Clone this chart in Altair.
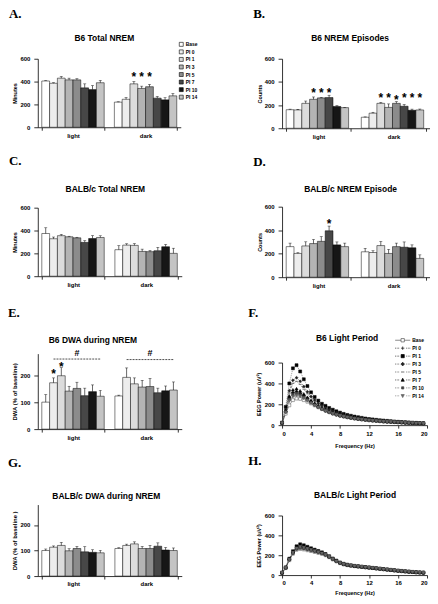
import altair as alt
import pandas as pd

SANS = "Liberation Sans"
SERIF = "Liberation Serif"

groups = ["Base", "PI 0", "PI 1", "PI 3", "PI 5", "PI 7", "PI 10", "PI 14"]
periods = ["light", "dark"]
bar_fills = ["#ffffff", "#ededed", "#dcdcdc", "#b4b4b4", "#8c8c8c", "#474747", "#161616", "#c4c4c4"]

# A. B6 Total NREM (minutes)
a_light = [405, 385, 430, 415, 415, 345, 330, 390]
a_light_err = [3, 5, 15, 15, 10, 35, 35, 20]
a_dark = [220, 245, 380, 340, 355, 255, 240, 275]
a_dark_err = [3, 15, 20, 20, 20, 15, 20, 20]
a_star_period = ["dark", "dark", "dark"]
a_star_group = ["PI 1", "PI 3", "PI 5"]
a_star_y = [470, 470, 470]

# B. B6 NREM Episodes (counts)
b_light = [160, 158, 215, 250, 262, 265, 188, 178]
b_light_err = [5, 5, 20, 20, 5, 20, 7, 3]
b_dark = [95, 130, 215, 180, 215, 190, 155, 158]
b_dark_err = [3, 8, 8, 30, 15, 15, 10, 8]
b_star_period = ["light", "light", "light", "dark", "dark", "dark", "dark", "dark", "dark"]
b_star_group = ["PI 3", "PI 5", "PI 7", "PI 1", "PI 3", "PI 5", "PI 7", "PI 10", "PI 14"]
b_star_y = [332, 332, 332, 289, 289, 270, 289, 289, 289]

# C. BALB/c Total NREM (minutes)
c_light = [374, 328, 355, 345, 336, 296, 330, 339]
c_light_err = [50, 15, 12, 5, 5, 15, 25, 15]
c_dark = [232, 272, 270, 217, 215, 223, 258, 200]
c_dark_err = [35, 12, 15, 20, 10, 30, 20, 45]

# D. BALB/c NREM Episode (counts)
d_light = [260, 202, 266, 286, 305, 395, 275, 260]
d_light_err = [30, 8, 35, 35, 40, 40, 25, 30]
d_dark = [216, 210, 269, 202, 260, 255, 250, 160]
d_dark_err = [30, 15, 35, 35, 30, 45, 25, 30]
d_star_period = ["light"]
d_star_group = ["PI 7"]
d_star_y = [482]

# E. B6 DWA during NREM (% of baseline)
e_light = [100, 172, 198, 141, 151, 124, 139, 122]
e_light_err = [28, 18, 30, 18, 23, 28, 25, 22]
e_dark = [123, 192, 168, 156, 158, 135, 142, 145]
e_dark_err = [3, 35, 22, 25, 30, 17, 18, 30]
e_star_period = ["light", "light"]
e_star_group = ["PI 0", "PI 1"]
e_star_y = [214, 240]
e_line_period = ["light", "light", "dark", "dark"]
e_line_group = ["PI 0", "PI 14", "PI 0", "PI 14"]
e_line_y = [260, 260, 258, 258]
e_hash_period = ["light", "dark"]
e_hash_group = ["PI 5", "PI 5"]
e_hash_y = [283, 283]

# G. BALB/c DWA during NREM (% of baseline)
g_light = [100, 113, 120, 99, 108, 95, 93, 91]
g_light_err = [6, 5, 12, 8, 8, 20, 10, 10]
g_dark = [108, 120, 126, 108, 108, 117, 102, 100]
g_dark_err = [3, 5, 8, 8, 12, 13, 10, 10]

# F / H. EEG power spectra
freqs = [0, 0.5, 1, 1.5, 2, 2.5, 3, 3.5, 4, 4.5, 5, 5.5, 6, 6.5, 7, 7.5, 8, 8.5, 9, 9.5,
         10, 10.5, 11, 11.5, 12, 12.5, 13, 13.5, 14, 14.5, 15, 15.5, 16, 16.5, 17, 17.5, 18, 18.5, 19, 19.5]

f_base = [20, 110, 190, 240, 255, 252, 240, 225, 208, 190, 172, 155, 140, 126, 113, 102, 92, 84, 77, 71,
          65, 60, 56, 52, 48, 45, 42, 39, 36, 34, 32, 30, 28, 26, 24, 22, 20, 19, 17, 16]
f_pi0 = [20, 130, 260, 310, 320, 305, 280, 252, 225, 200, 177, 157, 140, 125, 112, 101, 91, 83, 76, 70,
         64, 59, 55, 51, 47, 44, 41, 38, 35, 33, 31, 29, 27, 25, 23, 22, 20, 19, 17, 16]
f_pi1 = [25, 175, 400, 545, 575, 515, 440, 375, 315, 270, 235, 205, 185, 165, 148, 133, 120, 108, 98, 90,
         82, 76, 70, 64, 59, 55, 51, 47, 44, 41, 38, 35, 32, 30, 28, 26, 24, 22, 20, 19]
f_pi3 = [22, 150, 330, 430, 455, 420, 370, 320, 275, 240, 210, 185, 165, 148, 133, 120, 108, 98, 89, 81,
         74, 68, 63, 58, 54, 50, 46, 43, 40, 37, 35, 33, 31, 29, 27, 25, 23, 21, 19, 18]
f_pi5 = [22, 145, 310, 400, 420, 390, 345, 300, 262, 228, 200, 176, 156, 139, 124, 111, 100, 91, 83, 76,
         69, 64, 59, 55, 51, 47, 44, 41, 38, 35, 33, 31, 29, 27, 25, 23, 21, 20, 18, 17]
f_pi7 = [22, 140, 280, 340, 350, 330, 300, 268, 238, 210, 185, 164, 146, 130, 117, 105, 95, 86, 79, 72,
         66, 61, 57, 53, 49, 45, 42, 39, 36, 34, 32, 30, 28, 26, 24, 22, 20, 19, 18, 16]
f_pi10 = [20, 125, 245, 290, 300, 288, 265, 240, 215, 192, 171, 152, 136, 122, 110, 99, 90, 82, 75, 69,
          63, 58, 54, 50, 46, 43, 40, 37, 35, 33, 31, 29, 27, 25, 23, 21, 20, 18, 17, 16]
f_pi14 = [20, 120, 230, 272, 282, 272, 255, 232, 210, 188, 168, 150, 134, 120, 108, 98, 89, 81, 74, 68,
          62, 57, 53, 49, 46, 43, 40, 37, 35, 33, 31, 29, 27, 25, 23, 21, 20, 18, 17, 16]

h_base = [22, 70, 150, 215, 255, 262, 258, 250, 242, 233, 224, 214, 200, 180, 158, 138, 120, 108, 100, 95,
          90, 86, 82, 78, 75, 71, 67, 63, 59, 55, 51, 47, 43, 40, 37, 34, 31, 28, 26, 24]
h_pi0 = [24, 75, 160, 230, 275, 290, 282, 270, 258, 246, 235, 222, 206, 185, 163, 142, 124, 111, 102, 96,
         91, 87, 83, 79, 75, 71, 67, 63, 59, 55, 51, 47, 43, 40, 37, 34, 31, 28, 26, 24]
h_pi1 = [25, 78, 165, 240, 290, 310, 300, 285, 270, 256, 243, 229, 212, 190, 167, 146, 127, 114, 105, 98,
         93, 89, 85, 81, 77, 73, 69, 65, 61, 57, 53, 49, 45, 42, 38, 35, 32, 29, 27, 25]
h_pi3 = [23, 72, 155, 222, 265, 278, 272, 262, 252, 241, 231, 219, 204, 183, 161, 140, 122, 110, 101, 96,
         91, 87, 83, 79, 75, 71, 67, 63, 59, 55, 51, 47, 43, 40, 37, 34, 31, 28, 26, 24]
h_pi5 = [24, 74, 158, 228, 272, 286, 280, 268, 256, 244, 233, 220, 205, 184, 162, 141, 123, 111, 102, 96,
         91, 87, 83, 79, 75, 71, 67, 63, 59, 55, 51, 47, 43, 40, 37, 34, 31, 28, 26, 24]
h_pi7 = [25, 76, 162, 236, 284, 302, 294, 280, 266, 252, 240, 226, 210, 188, 165, 144, 125, 112, 103, 97,
         92, 88, 84, 80, 76, 72, 68, 64, 60, 56, 52, 48, 44, 41, 38, 35, 32, 29, 27, 25]
h_pi10 = [23, 71, 152, 218, 260, 270, 265, 256, 247, 237, 227, 216, 201, 181, 159, 139, 121, 109, 100, 95,
          90, 86, 82, 78, 74, 70, 66, 62, 58, 54, 50, 46, 42, 39, 36, 33, 30, 27, 25, 23]
h_pi14 = [24, 73, 157, 226, 270, 284, 277, 266, 255, 243, 232, 219, 204, 183, 161, 140, 122, 110, 101, 96,
          91, 87, 83, 79, 75, 71, 67, 63, 59, 55, 51, 47, 43, 40, 37, 34, 31, 28, 26, 24]

pt_shapes = ["square", "cross", "square", "diamond", "stroke", "triangle-up", "circle", "triangle-down"]
pt_fills = ["#ffffff", "#000000", "#000000", "#222222", "#333333", "#000000", "#444444", "#666666"]
pt_strokes = ["#555555", "#000000", "#000000", "#222222", "#333333", "#000000", "#444444", "#666666"]
dashes = [[1, 0], [1, 1], [1, 1], [2, 1], [3, 1], [1, 1], [1, 2], [2, 1]]

DOTS = "M-1.9,0h0.2M-1.5,0h0.2M-1.1,0h0.2M0.9,0h0.2M1.3,0h0.2M1.7,0h0.2"
leg_paths = [
    "M-1.9,0H-0.42M0.42,0H1.9M-0.42,-0.42H0.42V0.42H-0.42Z",
    DOTS + "M-0.42,0H0.42M0,-0.42V0.42",
    DOTS + "M-0.4,-0.4H0.4V0.4H-0.4Z",
    DOTS + "M0,-0.46L0.46,0L0,0.46L-0.46,0Z",
    DOTS + "M-0.42,0H0.42",
    DOTS + "M0,-0.44L0.4,0.32H-0.4Z",
    DOTS + "M-0.28,-0.28H0.28V0.28H-0.28Z",
    DOTS + "M0,0.44L0.4,-0.32H-0.4Z",
]

AX = dict(labelFont=SANS, labelFontSize=6, labelFontWeight="bold", labelColor="black",
          titleFont=SANS, titleFontWeight="bold", titleColor="black",
          domainColor="black", tickColor="black", domainWidth=0.8, tickWidth=0.8, grid=False)

INDEP = dict(fill="independent", shape="independent", stroke="independent", strokeDash="independent")


def text_layer(txt, x, y, size, font=SANS, align="center"):
    return alt.Chart(pd.DataFrame({"t": [txt]})).mark_text(
        font=font, fontSize=size, fontWeight="bold", align=align, baseline="middle", color="black"
    ).encode(text="t:N", x=alt.value(x), y=alt.value(y))


def bar_frame(light, light_err, dark, dark_err):
    rows = []
    for p, vals, errs in (("light", light, light_err), ("dark", dark, dark_err)):
        for g, v, e in zip(groups, vals, errs):
            rows.append({"period": p, "group": g, "value": v, "top": v + e})
    return pd.DataFrame(rows)


def bar_panel(df, ytitle, ydomain, yticks, w, h, letter, lpos, title, tpos,
              ytitle_size=5.5, stars=None, legend=False, extra=()):
    X = alt.X("period:N", sort=periods,
              scale=alt.Scale(domain=periods, paddingInner=0.14, paddingOuter=0.055),
              axis=alt.Axis(title=None, labelAngle=0, tickBand="extent", tickSize=3, labelPadding=2, **AX))
    XO = alt.XOffset("group:N", sort=groups, scale=alt.Scale(domain=groups, paddingInner=0, paddingOuter=0))

    def Y(field):
        return alt.Y(field, scale=alt.Scale(domain=ydomain, nice=False),
                     axis=alt.Axis(title=ytitle, values=yticks, format="d", tickSize=4, labelPadding=4,
                                   titleFontSize=ytitle_size, titlePadding=2, **AX))

    fill_legend = None
    if legend:
        fill_legend = alt.Legend(title=None, orient="none", legendX=142, legendY=-17, symbolType="square",
                                 symbolSize=16, symbolStrokeColor="black", symbolStrokeWidth=0.6,
                                 labelFont=SANS, labelFontSize=5, labelFontWeight="bold", labelColor="black",
                                 rowPadding=0.6, labelOffset=2, padding=0)
    base = alt.Chart(df)
    bars = base.mark_bar(stroke="black", strokeWidth=0.5).encode(
        x=X, xOffset=XO, y=Y("value:Q"),
        fill=alt.Fill("group:N", sort=groups, scale=alt.Scale(domain=groups, range=bar_fills), legend=fill_legend))
    err = base.mark_rule(color="black", strokeWidth=0.6).encode(x=X, xOffset=XO, y=Y("value:Q"), y2="top:Q")
    cap = base.mark_tick(color="black", thickness=0.6, size=3).encode(x=X, xOffset=XO, y=Y("top:Q"))
    layers = [bars, err, cap]
    if stars is not None:
        sp, sg, sy = stars
        sdf = pd.DataFrame({"period": sp, "group": sg, "y": sy})
        layers.append(alt.Chart(sdf).mark_text(text="*", font=SANS, fontSize=12, fontWeight="bold",
                                               baseline="alphabetic", dy=7, color="black").encode(
            x=X, xOffset=XO, y=Y("y:Q")))
    for kind, (pp, gg, yy) in extra:
        edf = pd.DataFrame({"period": pp, "group": gg, "y": yy})
        if kind == "line":
            layers.append(alt.Chart(edf).mark_line(strokeDash=[2, 1], color="black", strokeWidth=0.7).encode(
                x=X, xOffset=XO, y=Y("y:Q"), detail="period:N"))
        else:
            layers.append(alt.Chart(edf).mark_text(text="#", font=SANS, fontSize=9, fontWeight="bold",
                                                   baseline="alphabetic", dy=3, color="black").encode(
                x=X, xOffset=XO, y=Y("y:Q")))
    layers.append(text_layer(letter, lpos[0], lpos[1], 13, font=SERIF, align="left"))
    layers.append(text_layer(title, tpos[0], tpos[1], 8.5))
    return alt.layer(*layers).properties(width=w, height=h)


def spec_panel(series_vals, w, h, letter, lpos, title, tpos, xtitle_pad, legend=False):
    rows = []
    for s, vals in zip(groups, series_vals):
        for f, v in zip(freqs, vals):
            rows.append({"f": f, "v": v, "series": s})
    df = pd.DataFrame(rows)
    X = alt.X("f:Q", scale=alt.Scale(domain=[0, 20], nice=False),
              axis=alt.Axis(title="Frequency (Hz)", values=[0, 4, 8, 12, 16, 20], tickSize=3, labelPadding=2,
                            titleFontSize=5.5, titlePadding=xtitle_pad, **AX))
    Y = alt.Y("v:Q", scale=alt.Scale(domain=[0, 600], nice=False),
              axis=alt.Axis(title="EEG Power (uV\u00b2)", values=[0, 200, 400, 600], format="d", tickSize=4,
                            labelPadding=4, titleFontSize=5.5, titlePadding=3, **AX))
    lines = alt.Chart(df).mark_line(strokeWidth=0.6, color="#555555").encode(
        x=X, y=Y, detail="series:N",
        strokeDash=alt.StrokeDash("series:N", sort=groups, scale=alt.Scale(domain=groups, range=dashes), legend=None))
    pts = alt.Chart(df).mark_point(filled=True, size=9, strokeWidth=0.5, opacity=1).encode(
        x=X, y=Y,
        shape=alt.Shape("series:N", sort=groups, scale=alt.Scale(domain=groups, range=pt_shapes), legend=None),
        fill=alt.Fill("series:N", sort=groups, scale=alt.Scale(domain=groups, range=pt_fills), legend=None),
        stroke=alt.Stroke("series:N", sort=groups, scale=alt.Scale(domain=groups, range=pt_strokes), legend=None))
    layers = [lines, pts]
    if legend:
        lg = alt.Legend(title=None, orient="none", legendX=117, legendY=-27, symbolSize=64,
                        symbolStrokeWidth=0.7, labelFont=SANS, labelFontSize=5, labelFontWeight="bold",
                        labelColor="black", rowPadding=0, labelOffset=5, padding=0)
        leg = alt.Chart(df).transform_filter("datum.f > 100").mark_point(filled=True, opacity=1, strokeWidth=0.7).encode(
            x=X, y=Y,
            shape=alt.Shape("series:N", sort=groups, scale=alt.Scale(domain=groups, range=leg_paths), legend=lg),
            fill=alt.Fill("series:N", sort=groups, scale=alt.Scale(domain=groups, range=pt_fills), legend=lg),
            stroke=alt.Stroke("series:N", sort=groups, scale=alt.Scale(domain=groups, range=pt_strokes), legend=lg))
        layers.append(leg)
    layers.append(text_layer(letter, lpos[0], lpos[1], 13, font=SERIF, align="left"))
    layers.append(text_layer(title, tpos[0], tpos[1], 8.5))
    ch = alt.layer(*layers).properties(width=w, height=h)
    if legend:
        ch = ch.resolve_scale(shape="independent", fill="independent", stroke="independent")
    return ch


A = bar_panel(bar_frame(a_light, a_light_err, a_dark, a_dark_err), "Minutes", [0, 600], [0, 200, 400, 600],
              144, 69, "A.", (-29, -45), "B6 Total NREM", (67, -21),
              stars=(a_star_period, a_star_group, a_star_y), legend=True)
B = bar_panel(bar_frame(b_light, b_light_err, b_dark, b_dark_err), "Counts", [0, 600], [0, 200, 400, 600],
              149, 70, "B.", (-29, -45), "B6 NREM Episodes", (68.5, -20.5),
              stars=(b_star_period, b_star_group, b_star_y))
C = bar_panel(bar_frame(c_light, c_light_err, c_dark, c_dark_err), "Minutes", [0, 600], [0, 200, 400, 600],
              145, 69, "C.", (-29, -46.5), "BALB/c Total NREM", (68, -18.7))
D = bar_panel(bar_frame(d_light, d_light_err, d_dark, d_dark_err), "Counts", [0, 600], [0, 200, 400, 600],
              149, 71, "D.", (-29, -44.5), "BALB/c NREM Episode", (69, -17.7),
              stars=(d_star_period, d_star_group, d_star_y))
E = bar_panel(bar_frame(e_light, e_light_err, e_dark, e_dark_err), "DWA (% of baseline)", [0, 280], [0, 100, 200],
              145, 76, "E.", (-30, -40.5), "B6 DWA during NREM", (55.5, -14), ytitle_size=6,
              stars=(e_star_period, e_star_group, e_star_y),
              extra=[("line", (e_line_period, e_line_group, e_line_y)),
                     ("hash", (e_hash_period, e_hash_group, e_hash_y))])
G = bar_panel(bar_frame(g_light, g_light_err, g_dark, g_dark_err), "DWA (% of baseline )", [0, 280], [0, 100, 200],
              145, 72, "G.", (-30, -41.5), "BALB/c DWA during NREM", (69, -8.3), ytitle_size=6)
F = spec_panel([f_base, f_pi0, f_pi1, f_pi3, f_pi5, f_pi7, f_pi10, f_pi14], 146, 63,
               "F.", (-34, -50), "B6 Light Period", (65.5, -24.3), 8, legend=True)
H = spec_panel([h_base, h_pi0, h_pi1, h_pi3, h_pi5, h_pi7, h_pi10, h_pi14], 146, 60,
               "H.", (-34, -54.5), "BALB/c Light Period", (73.5, -20.3), 5)

left = alt.concat(alt.vconcat(A, C, spacing=81, bounds="flush").resolve_scale(**INDEP),
                  alt.vconcat(E, G, spacing=76, bounds="flush").resolve_scale(**INDEP),
                  columns=1, spacing=20, align="none").resolve_scale(**INDEP)
right = alt.concat(alt.vconcat(B, D, spacing=79, bounds="flush").resolve_scale(**INDEP),
                   alt.vconcat(F, H, spacing=91, bounds="flush").resolve_scale(**INDEP),
                   columns=1, spacing=19, align="none").resolve_scale(**INDEP)

chart = alt.hconcat(left, right, spacing=51).resolve_scale(**INDEP).properties(
    padding={"top": -2, "left": 0, "right": 0, "bottom": 0}, background="white"
).configure(font=SANS).configure_view(stroke=None)

chart.save("out.html", embed_options={"renderer": "svg", "actions": False})
